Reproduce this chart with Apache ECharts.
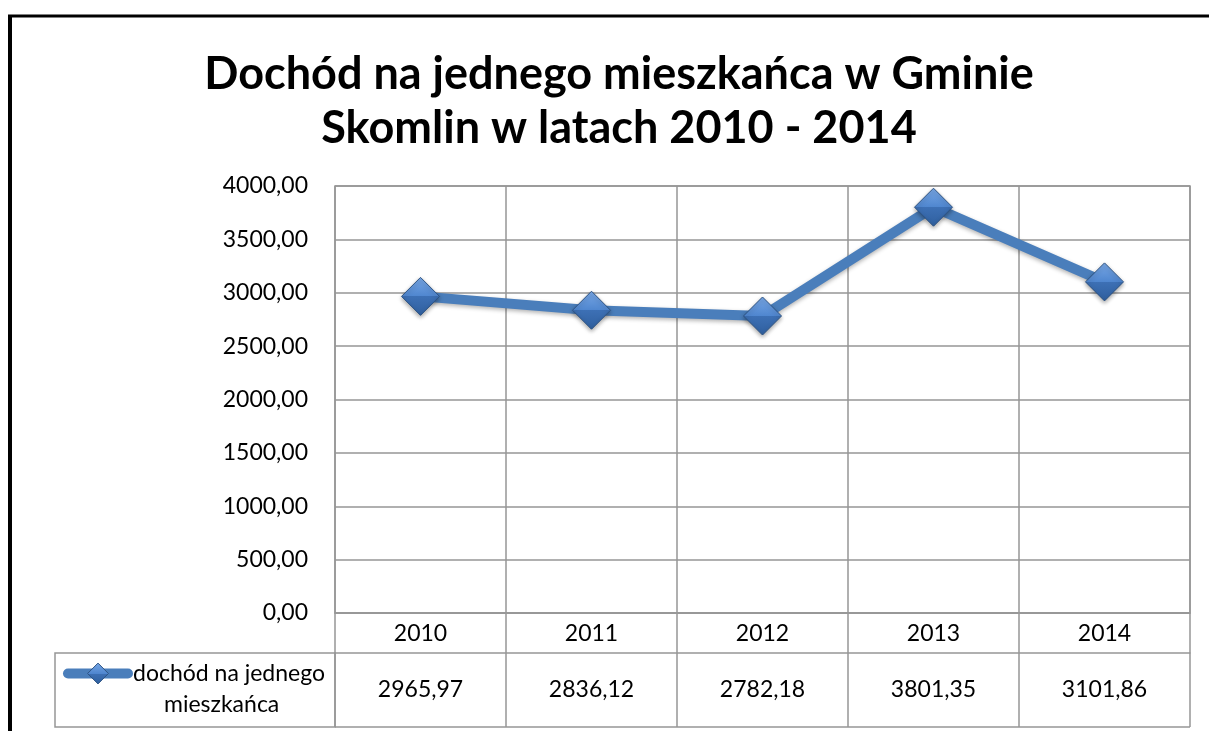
<!DOCTYPE html>
<html>
<head>
<meta charset="utf-8">
<script src="https://cdn.jsdelivr.net/npm/echarts@6/dist/echarts.min.js"></script>
<style>
html, body { margin: 0; padding: 0; background: #fff; }
#chart { width: 1209px; height: 731px; }
</style>
</head>
<body>
<div id="chart"></div>
<script>
// dane z wykresu
var years = ['2010', '2011', '2012', '2013', '2014'];
var dochod = [2965.97, 2836.12, 2782.18, 3801.35, 3101.86];
var seriesName = 'dochód na jednego mieszkańca';

function fmt(v) {
    return Number(v).toFixed(2).replace('.', ',');
}

var gridColor = '#969696';
var font = 'Lato, "Open Sans", sans-serif';
var fs = 23;

var markerFill = new echarts.graphic.LinearGradient(0, 0, 0, 1, [
    { offset: 0, color: '#79a8e6' },
    { offset: 0.5, color: '#4f86cf' },
    { offset: 0.5, color: '#3d70b5' },
    { offset: 1, color: '#2f5f9e' }
]);

var myChart = echarts.init(document.getElementById('chart'));

myChart.setOption({
    animation: false,
    title: {
        text: 'Dochód na jednego mieszkańca w Gminie\nSkomlin w latach 2010 - 2014',
        left: 614,
        top: 42,
        textAlign: 'center',
        textStyle: {
            fontFamily: font,
            fontSize: 45,
            fontWeight: 'bold',
            color: '#000',
            lineHeight: 54
        }
    },
    legend: {
        left: 58,
        top: 657,
        itemWidth: 60,
        itemHeight: 26,
        itemGap: 4,
        selectedMode: false,
        data: [seriesName],
        lineStyle: { width: 10, cap: 'round', color: '#4a7ebb' },
        itemStyle: { color: markerFill, borderColor: '#2c5282', borderWidth: 1 },
        formatter: function () {
            return 'dochód na jednego';
        },
        textStyle: { fontFamily: font, fontSize: fs, color: '#000' }
    },
    grid: {
        left: 335,
        right: 19,
        top: 186,
        bottom: 118,
        show: true,
        borderColor: gridColor,
        borderWidth: 1.5
    },
    xAxis: [{
        type: 'category',
        data: years,
        boundaryGap: true,
        axisLine: { lineStyle: { color: gridColor, width: 1.5 } },
        axisTick: { show: true, length: 114, lineStyle: { color: gridColor, width: 1.5 } },
        splitLine: { show: true, lineStyle: { color: gridColor, width: 1.5 } },
        axisLabel: { color: '#000', fontFamily: font, fontSize: fs, margin: 9 }
    }, {
        type: 'category',
        data: dochod.map(fmt),
        position: 'bottom',
        offset: 40,
        boundaryGap: true,
        axisLine: { show: true, lineStyle: { color: gridColor, width: 1.5 } },
        axisTick: { show: false },
        axisLabel: { color: '#000', fontFamily: font, fontSize: fs, margin: 25 }
    }],
    yAxis: {
        type: 'value',
        min: 0,
        max: 4000,
        interval: 500,
        axisLine: { show: false },
        axisTick: { show: false },
        splitLine: { lineStyle: { color: gridColor, width: 1.5 } },
        axisLabel: {
            color: '#000',
            fontFamily: font,
            fontSize: fs,
            margin: 27,
            formatter: fmt
        }
    },
    graphic: [
        // ramka
        { type: 'line', shape: { x1: 10, y1: 15, x2: 10, y2: 731 }, style: { stroke: '#000', lineWidth: 4 } },
        { type: 'line', shape: { x1: 8, y1: 16, x2: 1209, y2: 16 }, style: { stroke: '#000', lineWidth: 3 } },
        // komórka legendy i dolna linia tabeli
        { type: 'rect', shape: { x: 55, y: 653, width: 280, height: 74 }, style: { fill: 'none', stroke: gridColor, lineWidth: 1.5 } },
        { type: 'line', shape: { x1: 335, y1: 727, x2: 1190, y2: 727 }, style: { stroke: gridColor, lineWidth: 1.5 } },
        // druga linia opisu legendy
        {
            type: 'text', left: 164, top: 693,
            style: { text: 'mieszkańca', font: fs + 'px ' + font, fill: '#000' }
        }
    ],
    series: [{
        name: seriesName,
        type: 'line',
        data: dochod,
        symbol: 'diamond',
        symbolSize: 38,
        lineStyle: {
            color: '#4a7ebb',
            width: 10,
            shadowColor: 'rgba(0,0,0,0.3)',
            shadowBlur: 4,
            shadowOffsetY: 2
        },
        itemStyle: {
            color: markerFill,
            borderColor: '#2c5282',
            borderWidth: 1,
            shadowColor: 'rgba(0,0,0,0.35)',
            shadowBlur: 4,
            shadowOffsetY: 2
        },
        emphasis: { disabled: true }
    }]
});
</script>
</body>
</html>
